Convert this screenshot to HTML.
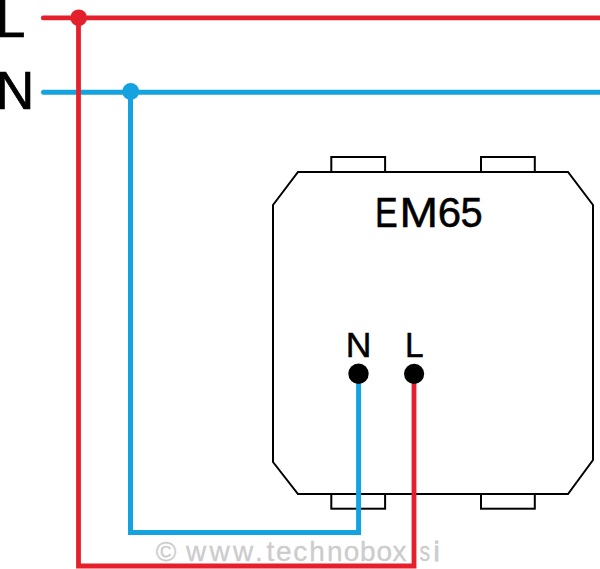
<!DOCTYPE html>
<html><head><meta charset="utf-8">
<style>
html,body{margin:0;padding:0;background:#fff;}
body{width:600px;height:569px;overflow:hidden;}
svg{display:block;}
text{font-family:"Liberation Sans",sans-serif;}
</style></head>
<body>
<svg width="600" height="569" viewBox="0 0 600 569">
<rect width="600" height="569" fill="#fff"/>
<!-- big labels -->
<text x="-4.4" y="37" font-size="53.8" fill="#000" stroke="#000" stroke-width="0.7">L</text>
<text x="-4.4" y="109" font-size="53.8" fill="#000" stroke="#000" stroke-width="0.7">N</text>
<!-- device box -->
<g fill="none" stroke="#000" stroke-width="2">
<path d="M298,172 L568,172 L593,205 L593,460 L568,494 L298,494 L273,462 L273,205 Z" stroke-linejoin="miter"/>
<rect x="331.3" y="157" width="53.8" height="15"/>
<rect x="481" y="157" width="53.8" height="15"/>
<rect x="331.3" y="494" width="53.8" height="14.7"/>
<rect x="481" y="494" width="53.8" height="14.7"/>
</g>
<g font-size="42" fill="#000" stroke="#000" stroke-width="0.5">
<text transform="translate(375.1,227) scale(0.81,1)">E</text>
<text transform="translate(399.5,227) scale(1.1,1)">M</text>
<text x="437.8" y="227">6</text>
<text transform="translate(460.6,227) scale(0.95,1)">5</text>
</g>
<text x="345.8" y="357" font-size="35.6" fill="#000" stroke="#000" stroke-width="0.5">N</text>
<text transform="translate(405,357) scale(0.94,1)" font-size="35.6" fill="#000" stroke="#000" stroke-width="0.5">L</text>
<!-- watermark -->
<g font-size="28" fill="#cccccc" stroke="#cccccc" stroke-width="0.3">
<text x="155.8 175.8 186.1 209.6 232.9 255.1 266.4 276.1 293.3 309.2 326.9 343.7 359.9 376.5 392.5 409.9" y="560.5">© www.technobox.</text>
<text transform="translate(419.4,560.5) scale(0.76,1)">s</text>
<text x="433.6" y="560.5" stroke-width="0.8">i</text>
</g>
<!-- blue wires -->
<g fill="none" stroke="#15a3e0" stroke-width="5">
<line x1="43.5" y1="92.3" x2="602" y2="92.3" stroke-linecap="round"/>
<polyline points="130.5,92 130.5,532.5 358.6,532.5 358.6,374"/>
</g>
<circle cx="130.7" cy="91.6" r="8.5" fill="#15a3e0"/>
<!-- red wires -->
<g fill="none" stroke="#e4202c" stroke-width="4.6">
<line x1="43.2" y1="17.9" x2="602" y2="17.9" stroke-linecap="round"/>
</g>
<g fill="none" stroke="#e4202c" stroke-width="4.8">
<polyline points="78.5,18 78.5,566 414,566 414,374"/>
</g>
<circle cx="78.7" cy="17.8" r="8.4" fill="#e4202c"/>
<!-- terminals -->
<circle cx="358.5" cy="373.8" r="10.2" fill="#000"/>
<circle cx="414.1" cy="373.8" r="10.1" fill="#000"/>
</svg>
</body></html>
